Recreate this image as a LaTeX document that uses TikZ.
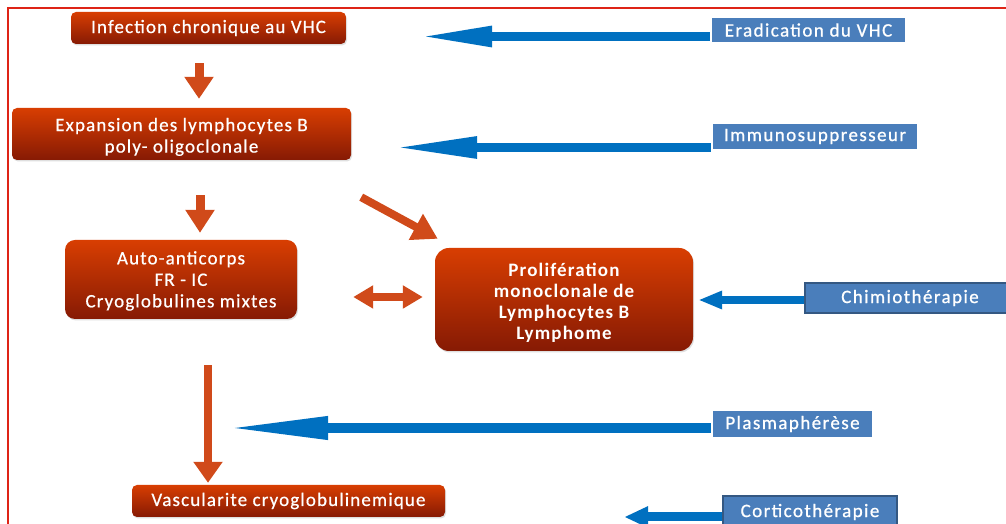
\documentclass[tikz,border=0pt]{standalone}
\usepackage{fontspec}
\setmainfont{Carlito}
\usetikzlibrary{arrows.meta,shadows}
\definecolor{oarr}{RGB}{208,74,26}
\definecolor{otop}{RGB}{216,62,2}
\definecolor{obot}{RGB}{134,26,4}
\definecolor{bfill}{RGB}{74,126,187}
\definecolor{bdark}{RGB}{52,88,130}
\definecolor{barr}{RGB}{0,112,192}
\definecolor{frame}{RGB}{222,36,22}
\newcommand{\otxt}{\fontsize{19}{21.5}\selectfont\addfontfeatures{LetterSpace=6,FakeBold=0.6}}
\newcommand{\btxt}{\fontsize{19}{20}\selectfont\addfontfeatures{LetterSpace=7.5,FakeBold=0.8}}
\tikzset{
  obox/.style={rectangle, rounded corners=5pt, top color=otop, bottom color=obot,
    text=white, align=center, font=\otxt, inner sep=0pt,
    drop shadow={opacity=0.25, shadow xshift=1pt, shadow yshift=-1.5pt}},
  bbox/.style={rectangle, fill=bfill, text=white, font=\btxt,
    inner sep=0pt, draw=white, line width=2.5pt,
    drop shadow={opacity=0.3, shadow xshift=1pt, shadow yshift=-1.5pt}},
  bboxd/.style={rectangle, fill=bfill, text=white, font=\btxt,
    inner sep=0pt, draw=bdark, line width=1.2pt,
    drop shadow={opacity=0.3, shadow xshift=1pt, shadow yshift=-1.5pt}},
  oarrow/.style={draw=oarr, line width=#1},
  barrow/.style={draw=barr, line width=#1},
}
\begin{document}
\begin{tikzpicture}[x=1pt,y=1pt]
\useasboundingbox (0,0) rectangle (1006,524);
\fill[white] (0,0) rectangle (1006,524);
\draw[frame, line width=1.6pt] (8,-10) -- (8,516) -- (1020,516);

% orange nodes
\node[obox, minimum width=275pt, minimum height=32pt] (n1) at (208.5,496) {Infection chronique au VHC};
\node[obox, minimum width=339pt, minimum height=52pt] (n2) at (181.5,390) {\rule{0pt}{19pt}Expansion des lymphocytes B\\poly- oligoclonale};
\node[obox, rounded corners=10pt, minimum width=232pt, minimum height=79pt] (n3) at (181,244.5) {\rule{0pt}{16pt}Auto-anticorps\\FR - IC\\Cryoglobulines mixtes};
\node[obox, rounded corners=14pt, minimum width=258pt, minimum height=103pt, font=\fontsize{19}{21}\selectfont\bfseries\addfontfeatures{LetterSpace=6}] (n4) at (564,224.5) {\rule{0pt}{20pt}Prolifération\\monoclonale de\\Lymphocytes B\\Lymphome};
\node[obox, minimum width=313pt, minimum height=32pt] (n5) at (288.5,23) {Vascularite cryoglobulinemique};

% blue nodes
\node[bbox, minimum width=195pt, minimum height=26pt] (e1) at (808.5,494) {Eradication du VHC};
\node[bbox, minimum width=206pt, minimum height=27pt] (e2) at (815,387.5) {Immunosuppresseur};
\node[bboxd, minimum width=210pt, minimum height=30pt] (e3) at (910,226) {Chimiothérapie};
\node[bbox, minimum width=161pt, minimum height=29pt] (e4) at (792.5,100) {Plasmaphérèse};
\node[bboxd, minimum width=174pt, minimum height=32pt] (e5) at (810,12) {Corticothérapie};

% orange arrows
\coordinate (a1) at ([xshift=-9.5pt]n1.south);
\draw[oarrow=9pt, shorten <=19pt, shorten >=9pt, -{Triangle[length=22pt,width=28pt]}] (a1) -- (a1 |- n2.north);
\coordinate (a2) at ([xshift=18.5pt]n2.south);
\draw[oarrow=9pt, shorten <=35pt, shorten >=7pt, -{Triangle[length=23pt,width=28pt]}] (a2) -- (a2 |- n3.north);
\draw[oarrow=8pt, -{Triangle[length=25pt,width=28pt]}] ([xshift=10pt,yshift=-37pt]n2.south east) -- ([xshift=3pt,yshift=9pt]n4.north west);
\coordinate (d4) at ([yshift=2.5pt]n4.west);
\draw[oarrow=8pt, shorten <=56pt, shorten >=12pt, {Triangle[length=20pt,width=22pt]}-{Triangle[length=20pt,width=22pt]}] (d4 -| n3.east) -- (d4);
\coordinate (a5) at ([xshift=27pt]n3.south);
\draw[oarrow=8pt, shorten <=46pt, shorten >=2pt, -{Triangle[length=21pt,width=28pt]}] (a5) -- (a5 |- n5.north);

% blue arrows
\coordinate (t1) at ([yshift=-6.5pt]e1.west);
\draw[barrow=9pt, shorten >=72pt, -{Triangle[length=74pt,width=19pt]}] (t1) -- (t1 -| n1.east);
\coordinate (t2) at ([yshift=-11pt]e2.west);
\draw[barrow=9pt, shorten >=42pt, -{Triangle[length=84pt,width=20pt]}] (t2) -- (t2 -| n2.east);
\coordinate (t3) at ([yshift=-2pt]e3.west);
\draw[barrow=8pt, shorten >=5pt, -{Triangle[length=24pt,width=17pt]}] (t3) -- (t3 -| n4.east);
\coordinate (t4) at ([yshift=-4pt]e4.west);
\coordinate (p4) at (224,96);
\draw[barrow=10pt, -{Triangle[length=104pt,width=21pt]}] (t4) -- (p4);
\coordinate (t5) at ([yshift=-5pt]e5.west);
\draw[barrow=9pt, shorten >=179pt, -{Triangle[length=24pt,width=20pt]}] (t5) -- (t5 -| n5.east);
\end{tikzpicture}
\end{document}
